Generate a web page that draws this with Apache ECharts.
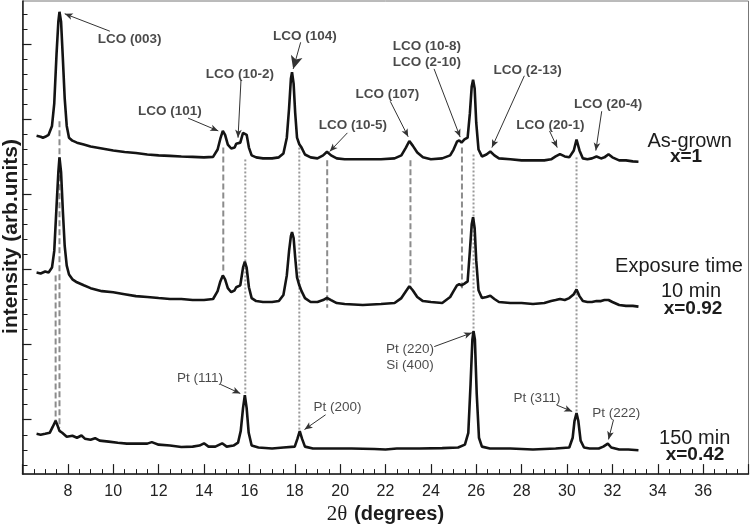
<!DOCTYPE html>
<html><head><meta charset="utf-8">
<script src="https://cdn.jsdelivr.net/npm/echarts@6/dist/echarts.min.js"></script>
<style>html,body{margin:0;padding:0;background:#fff}#c{width:751px;height:530px}</style>
</head><body><div id="c"></div>
<script>
// ---- data (2θ in degrees, intensity in arbitrary display units, traces offset as in the figure) ----
const xTickLabels = [8,10,12,14,16,18,20,22,24,26,28,30,32,34,36];
const yMajorTicks = [0,5,10,15,20,25];
const yMinorTicks = [-3,-2,-1,0,1,2,3,4,5,6,7,8,9,10,11,12,13,14,15,16,17,18,19,20,21,22,23,24,25,26,27];

const asGrown = [[6.62,18.91],[6.8,18.84],[6.9,18.78],[7.0,18.84],[7.15,18.97],[7.3,19.56],[7.4,21.07],[7.5,24.34],[7.58,26.50],[7.63,27.16],[7.7,26.50],[7.78,24.01],[7.86,21.40],[7.95,19.56],[8.05,18.78],[8.2,18.58],[8.4,18.45],[8.7,18.32],[9.0,18.19],[9.5,18.06],[10.0,17.93],[10.5,17.83],[11.0,17.76],[11.5,17.66],[12.0,17.60],[12.5,17.57],[13.0,17.53],[13.5,17.50],[14.0,17.47],[14.4,17.50],[14.6,17.99],[14.72,18.71],[14.83,19.23],[14.93,18.97],[15.05,18.32],[15.2,18.06],[15.35,18.12],[15.42,18.38],[15.5,18.25],[15.6,18.45],[15.72,19.10],[15.8,19.23],[15.88,18.97],[15.98,18.12],[16.1,17.60],[16.3,17.47],[16.6,17.40],[17.0,17.40],[17.3,17.47],[17.5,17.73],[17.65,18.78],[17.75,20.74],[17.83,22.70],[17.88,23.14],[17.95,22.38],[18.02,20.41],[18.1,18.78],[18.2,18.34],[18.3,18.12],[18.45,17.66],[18.7,17.47],[19.0,17.40],[19.25,17.60],[19.42,17.84],[19.6,17.60],[19.85,17.40],[20.2,17.34],[21.0,17.34],[21.8,17.34],[22.4,17.40],[22.7,17.60],[22.9,18.12],[23.05,18.56],[23.2,18.25],[23.4,17.79],[23.65,17.47],[24.0,17.34],[24.5,17.40],[24.85,17.60],[25.0,17.99],[25.15,18.51],[25.25,18.60],[25.35,18.45],[25.48,18.66],[25.62,18.78],[25.72,20.41],[25.8,22.19],[25.86,22.64],[25.93,22.05],[26.0,19.76],[26.1,17.99],[26.25,17.53],[26.45,17.66],[26.62,17.86],[26.8,17.60],[27.0,17.40],[27.5,17.34],[28.0,17.27],[28.5,17.27],[29.0,17.27],[29.3,17.34],[29.5,17.53],[29.69,17.68],[29.9,17.53],[30.1,17.47],[30.3,17.93],[30.42,18.66],[30.55,17.93],[30.7,17.40],[30.9,17.34],[31.1,17.40],[31.3,17.53],[31.5,17.40],[31.65,17.47],[31.83,17.68],[32.0,17.47],[32.3,17.27],[32.6,17.27],[32.9,17.20],[33.15,17.18]];

const exposure10 = [[6.62,9.80],[6.8,9.74],[7.0,9.87],[7.15,9.80],[7.3,10.13],[7.4,11.24],[7.5,14.19],[7.58,16.48],[7.63,17.47],[7.7,16.48],[7.78,13.86],[7.86,11.57],[7.95,10.26],[8.05,9.67],[8.2,9.35],[8.4,9.15],[8.7,8.95],[9.0,8.76],[9.5,8.56],[10.0,8.49],[10.5,8.36],[11.0,8.23],[11.5,8.17],[12.0,8.10],[12.5,8.04],[13.0,8.04],[13.5,7.97],[14.0,7.97],[14.4,8.04],[14.6,8.56],[14.72,9.21],[14.83,9.61],[14.93,9.35],[15.05,8.76],[15.2,8.49],[15.35,8.62],[15.42,8.82],[15.5,8.69],[15.6,8.95],[15.72,10.13],[15.8,10.52],[15.88,10.13],[15.98,8.82],[16.1,8.10],[16.3,7.90],[16.6,7.84],[17.0,7.84],[17.3,7.90],[17.5,8.30],[17.65,9.61],[17.75,11.24],[17.83,12.23],[17.88,12.49],[17.95,12.10],[18.02,10.79],[18.1,9.48],[18.2,8.95],[18.3,8.56],[18.45,8.10],[18.7,7.84],[19.0,7.84],[19.25,7.97],[19.42,8.12],[19.6,7.97],[19.85,7.77],[20.2,7.71],[21.0,7.64],[21.8,7.71],[22.4,7.77],[22.7,8.10],[22.9,8.56],[23.05,8.89],[23.2,8.62],[23.4,8.17],[23.65,7.90],[24.0,7.84],[24.5,7.77],[24.85,8.17],[25.0,8.56],[25.15,8.95],[25.25,9.02],[25.35,8.95],[25.48,9.06],[25.62,9.21],[25.72,11.24],[25.8,13.01],[25.86,13.49],[25.93,12.75],[26.0,10.59],[26.1,8.62],[26.25,8.10],[26.45,8.17],[26.62,8.25],[26.8,8.04],[27.0,7.84],[27.5,7.77],[28.0,7.77],[28.5,7.71],[29.0,7.77],[29.3,7.90],[29.5,7.97],[29.69,8.04],[29.9,7.97],[30.1,8.10],[30.3,8.36],[30.42,8.67],[30.55,8.23],[30.7,7.90],[30.9,7.84],[31.1,7.84],[31.3,7.90],[31.5,7.90],[31.65,7.97],[31.83,7.97],[32.0,7.84],[32.3,7.64],[32.6,7.58],[32.9,7.58],[33.15,7.53]];

const exposure150 = [[6.62,-0.94],[6.8,-1.00],[7.0,-0.94],[7.2,-0.87],[7.33,-0.48],[7.46,-0.07],[7.55,-0.41],[7.63,-0.74],[7.75,-0.87],[7.95,-1.13],[8.2,-1.07],[8.4,-1.20],[8.6,-1.05],[8.75,-1.26],[9.0,-1.33],[9.2,-1.23],[9.4,-1.39],[9.8,-1.46],[10.2,-1.53],[10.6,-1.59],[11.0,-1.59],[11.5,-1.59],[11.7,-1.49],[12.0,-1.66],[12.5,-1.72],[13.0,-1.82],[13.5,-1.79],[13.8,-1.72],[14.0,-1.57],[14.2,-1.79],[14.5,-1.79],[14.8,-1.57],[15.0,-1.79],[15.3,-1.72],[15.5,-1.53],[15.62,-0.74],[15.72,0.77],[15.8,1.64],[15.88,0.77],[15.97,-0.87],[16.1,-1.72],[16.4,-1.85],[17.0,-1.92],[17.5,-1.85],[18.0,-1.79],[18.12,-1.26],[18.22,-0.76],[18.32,-1.26],[18.45,-1.79],[18.8,-1.92],[19.5,-1.92],[20.5,-1.92],[21.5,-1.95],[22.0,-1.98],[22.5,-1.92],[23.5,-1.92],[24.5,-1.89],[25.2,-1.85],[25.5,-1.66],[25.65,-0.87],[25.75,2.40],[25.83,5.35],[25.88,5.89],[25.94,5.35],[26.02,1.75],[26.12,-1.20],[26.25,-1.79],[26.6,-1.92],[27.5,-1.92],[28.5,-1.98],[29.5,-1.92],[30.1,-1.85],[30.25,-1.20],[30.33,-0.09],[30.42,0.44],[30.5,-0.09],[30.6,-1.39],[30.75,-1.85],[31.0,-1.92],[31.4,-1.92],[31.6,-1.79],[31.8,-1.59],[31.95,-1.85],[32.3,-1.98],[32.7,-1.98],[33.15,-2.03]];

// vertical guides: [2θ, upper value, lower value]
const dashedGuides = [[7.63,19.87,-0.54],[7.46,9.61,-0.09],[14.85,18.12,9.74],[19.43,17.27,7.45],[23.1,17.27,8.76],[25.37,18.12,8.76]];
const dottedGuides = [[15.82,17.33,1.64],[18.2,18.12,-0.74],[25.88,17.66,5.87],[30.42,17.47,0.44]];

// peak annotations
const lcoNotes = [
  {text:'LCO (003)', at:[10.72,25.32], from:[9.85,25.87], to:[7.86,27.03]},
  {text:'LCO (101)', at:[12.5,20.54], from:[13.30,20.08], to:[14.63,19.23]},
  {text:'LCO (10-2)', at:[15.58,23.03], from:[15.63,22.59], to:[15.5,18.78]},
  {text:'LCO (104)', at:[18.45,25.54], from:[18.26,25.13], to:[17.93,23.36], big:true},
  {text:'LCO (10-5)', at:[20.56,19.58], from:[20.32,19.10], to:[19.54,17.86]},
  {text:'LCO (107)', at:[22.08,21.68], from:[22.21,21.2], to:[23.0,18.84]},
  {text:'LCO (10-8)\nLCO (2-10)', at:[23.82,24.35], from:[24.14,23.36], to:[25.29,18.82]},
  {text:'LCO (2-13)', at:[28.26,23.29], from:[28.12,22.90], to:[26.69,18.12]},
  {text:'LCO (20-1)', at:[29.27,19.58], from:[29.23,19.23], to:[29.57,18.12]},
  {text:'LCO (20-4)', at:[31.81,21.0], from:[31.53,20.54], to:[31.27,17.92]}
];
const ptNotes = [
  {text:'Pt (111)', at:[13.82,2.78], from:[14.72,2.36], to:[15.6,1.75]},
  {text:'Pt (200)', at:[19.88,0.83], from:[19.36,0.33], to:[18.43,-0.65]},
  {text:'Pt (220)\nSi (400)', at:[23.08,4.18], from:[24.15,4.87], to:[25.81,5.79]},
  {text:'Pt (311)', at:[28.68,1.42], from:[29.54,0.98], to:[30.23,0.55]},
  {text:'Pt (222)', at:[32.17,0.44], from:[32.05,0.0], to:[31.83,-1.31]}
];

// ---- chart ----
const FONT = '"Liberation Sans", Arial, sans-serif';
const INK = '#1c1c1c';
const chart = echarts.init(document.getElementById('c'), null, {renderer:'canvas'});

function arrows(notes){
  return notes.map(n => [
    {coord:n.from, symbol:'none'},
    {coord:n.to, symbol:'arrow', symbolSize: n.big ? [9,13] : [5,8]}
  ]);
}
function guideSeries(g, dashed){
  return {
    type:'line', silent:true, symbol:'none', z:1, animation:false,
    data:[[g[0],g[1]],[g[0],g[2]]],
    lineStyle:{color: dashed ? '#8c8c8c' : '#9a9a9a', width: 2, type: dashed ? [6,3] : [2,2]}
  };
}
function traceSeries(data, notes){
  return {
    type:'line', data, symbol:'none', z:3, animation:false, silent:true,
    lineStyle:{color:'#141414', width:2.6},
    markLine:{
      silent:true, animation:false, symbol:['none','arrow'], precision:4,
      label:{show:false},
      lineStyle:{color:'#333', width:1, type:'solid'},
      emphasis:{disabled:true},
      data: arrows(notes)
    }
  };
}
function labelSeries(notes, bold){
  return {
    type:'scatter', symbolSize:0, silent:true, animation:false, z:5,
    data: notes.map(n => [n.at[0], n.at[1], n.text]),
    label:{show:true, position:'inside', formatter:p => p.data[2],
      fontFamily:FONT, fontSize:13.5, fontWeight: bold ? 'bold' : 'normal',
      color:INK, lineHeight:16, align:'center', verticalAlign:'middle'}
  };
}

const series = [];
dashedGuides.forEach(g => series.push(guideSeries(g, true)));
dottedGuides.forEach(g => series.push(guideSeries(g, false)));
series.push(traceSeries(asGrown, lcoNotes));
series.push(traceSeries(exposure10, []));
series.push(traceSeries(exposure150, ptNotes));
series.push(labelSeries(lcoNotes, true));
series.push(labelSeries(ptNotes, false));

const sideText = (text, x, y, bold, size, rot) => ({
  type:'text', x, y, z:10, silent:true, rotation: rot || 0,
  style:{text, fill:INK, font:(bold?'bold ':'')+size+'px '+FONT, align:'center', verticalAlign:'middle'}
});

chart.setOption({
  animation:false,
  backgroundColor:'#fff',
  grid:{left:22.5, right:2.5, top:1, bottom:48, show:true, borderColor:'#777', borderWidth:1},
  xAxis:{
    type:'value', min:6, max:38, interval:2,
    axisLine:{onZero:false, lineStyle:{color:INK, width:1.5}},
    axisTick:{inside:true, length:10, lineStyle:{color:INK, width:1.2}},
    minorTick:{show:true, splitNumber:4, length:5, lineStyle:{color:INK, width:1}},
    splitLine:{show:false},
    axisLabel:{customValues:xTickLabels, fontFamily:FONT, fontSize:16, color:'#222', margin:9},
    name:'{a|2θ}  {b|(degrees)}', nameLocation:'middle', nameGap:27,
    nameTextStyle:{rich:{
      a:{fontFamily:'"Liberation Serif", "Times New Roman", serif', fontSize:21, color:INK},
      b:{fontFamily:FONT, fontWeight:'bold', fontSize:20, color:INK}
    }}
  },
  yAxis:[{
    type:'value', min:-3.62, max:27.88,
    axisLine:{show:true, onZero:false, lineStyle:{color:INK, width:1.5}},
    axisTick:{show:true, inside:true, length:9, customValues:yMajorTicks, lineStyle:{color:INK, width:1.2}},
    axisLabel:{show:false}, splitLine:{show:false}
  },{
    type:'value', min:-3.62, max:27.88, position:'left',
    axisLine:{show:false, onZero:false},
    axisTick:{show:true, inside:true, length:5, customValues:yMinorTicks, lineStyle:{color:INK, width:1}},
    axisLabel:{show:false}, splitLine:{show:false}
  }],
  graphic:[
    sideText('intensity (arb.units)', 11, 236.5, true, 21, Math.PI/2),
    sideText('As-grown', 689.7, 141.7, false, 20),
    sideText('x=1', 686, 157, true, 19),
    sideText('Exposure time', 679, 266.7, false, 20),
    sideText('10 min', 691, 291.7, false, 20),
    sideText('x=0.92', 693, 308.3, true, 19),
    sideText('150 min', 694.7, 438.3, false, 20),
    sideText('x=0.42', 695, 455, true, 19)
  ],
  series
});
</script></body></html>
